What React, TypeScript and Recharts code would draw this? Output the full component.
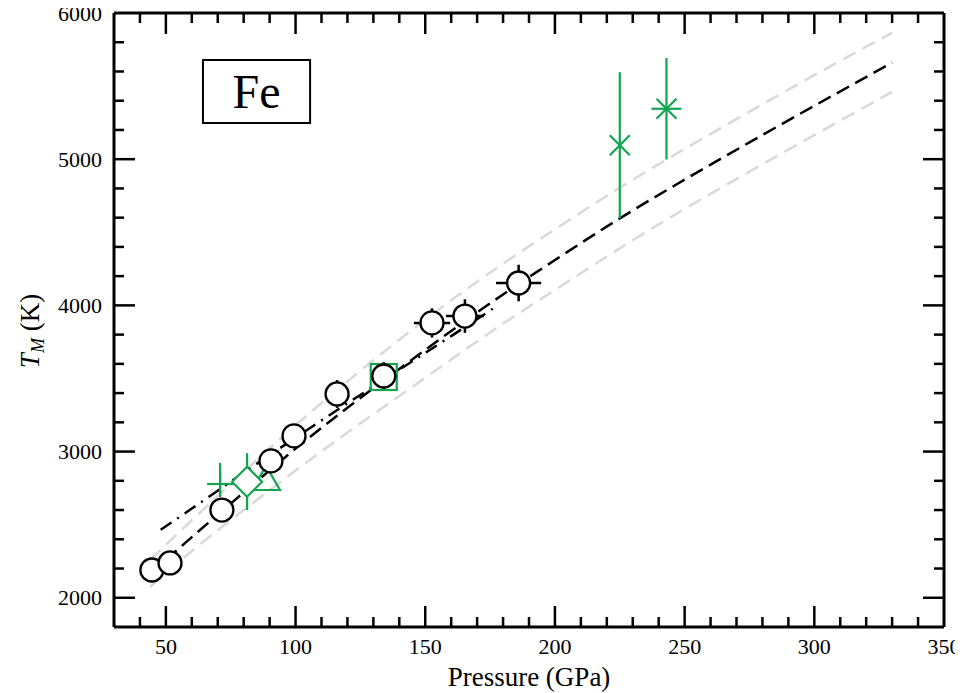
import React from "react";
import { ComposedChart, Line, Scatter, XAxis, YAxis, ErrorBar, ReferenceArea } from "recharts";

const FONT = '"Liberation Serif", "Times New Roman", serif';
const GREEN = "#12a54e";

// axis ticks
const xTicks = [40, 50, 60, 70, 80, 90, 100, 110, 120, 130, 140, 150, 160, 170, 180, 190, 200, 210, 220, 230, 240, 250, 260, 270, 280, 290, 300, 310, 320, 330, 340, 350];
const yTicks = [2000, 2200, 2400, 2600, 2800, 3000, 3200, 3400, 3600, 3800, 4000, 4200, 4400, 4600, 4800, 5000, 5200, 5400, 5600, 5800, 6000];

// melting curve fit and its bounds
const fitP = [44, 60, 80, 100, 120, 140, 160, 180, 200, 225, 250, 275, 300, 330];
const fitT = [2165, 2415, 2720, 3020, 3300, 3565, 3825, 4075, 4310, 4595, 4860, 5115, 5365, 5660];
const upperT = [2260, 2530, 2860, 3180, 3480, 3765, 4035, 4285, 4520, 4805, 5070, 5325, 5575, 5865];
const lowerT = [2075, 2320, 2600, 2870, 3130, 3380, 3630, 3875, 4105, 4390, 4660, 4915, 5165, 5460];

// dash-dot curve
const ddP = [48, 60, 80, 100, 120, 140, 160, 178];
const ddT = [2465, 2610, 2855, 3095, 3330, 3560, 3790, 4000];

// open circles
const circP = [44.6, 51.6, 71.6, 90.5, 99.4, 116, 134, 152.6, 165.3, 186];
const circT = [2190, 2238, 2600, 2936, 3107, 3394, 3517, 3880, 3927, 4153];
const circPErr = [2, 2, 2, 2, 2, 2, 5.3, 7, 7.3, 8.7];
const circTErr = [60, 60, 70, 70, 70, 95, 95, 100, 115, 125];

// green symbols
const plusPt = [{ p: 70.9, t: 2778, e: [80, 145] }];
const diamondPt = [{ p: 81.3, t: 2794, e: 195 }];
const trianglePt = [{ p: 88.6, t: 2792 }];
const squarePt = [{ p: 134, t: 3510 }];
const crossPt = [{ p: 225, t: 5095, e: 500 }];
const starPt = [{ p: 243, t: 5345, e: 347 }];

const fitData = fitP.map((p, i) => ({ p, t: fitT[i] }));
const upperData = fitP.map((p, i) => ({ p, t: upperT[i] }));
const lowerData = fitP.map((p, i) => ({ p, t: lowerT[i] }));
const ddData = ddP.map((p, i) => ({ p, t: ddT[i] }));
const circData = circP.map((p, i) => ({ p, t: circT[i], ex: circPErr[i], ey: circTErr[i] }));

const BottomTick = (props: any) => {
  const { x, y, payload } = props;
  const v = payload.value as number;
  const major = v % 50 === 0;
  return (
    <g>
      {v < 350 && <line x1={x} y1={y} x2={x} y2={y - (major ? 21 : 10)} stroke="#000" strokeWidth={2.5} />}
      {major && (
        <text x={x} y={y + 27} textAnchor="middle" fontSize={22} fontFamily={FONT} fill="#000">
          {v}
        </text>
      )}
    </g>
  );
};

const TopTick = (props: any) => {
  const { x, y, payload } = props;
  const v = payload.value as number;
  if (v >= 350) return <g />;
  return <line x1={x} y1={y} x2={x} y2={y + (v % 50 === 0 ? 21 : 10)} stroke="#000" strokeWidth={2.5} />;
};

const LeftTick = (props: any) => {
  const { x, y, payload } = props;
  const v = payload.value as number;
  const major = v % 1000 === 0;
  return (
    <g>
      {v < 6000 && <line x1={x} y1={y} x2={x + (major ? 21 : 10)} y2={y} stroke="#000" strokeWidth={2.5} />}
      {major && (
        <text x={x - 12} y={y} dy="0.35em" textAnchor="end" fontSize={22} fontFamily={FONT} fill="#000">
          {v}
        </text>
      )}
    </g>
  );
};

const RightTick = (props: any) => {
  const { x, y, payload } = props;
  const v = payload.value as number;
  if (v >= 6000) return <g />;
  return <line x1={x} y1={y} x2={x - (v % 1000 === 0 ? 21 : 10)} y2={y} stroke="#000" strokeWidth={2.5} />;
};

const CircleShape = (props: any) => (
  <circle cx={props.cx} cy={props.cy} r={11.5} fill="#fff" stroke="#000" strokeWidth={2.3} />
);

const PlusShape = (props: any) => {
  const { cx, cy } = props;
  return (
    <g stroke={GREEN} strokeWidth={2.2}>
      <line x1={cx - 13} y1={cy} x2={cx + 13} y2={cy} />
      <line x1={cx} y1={cy - 13} x2={cx} y2={cy + 13} />
    </g>
  );
};

const DiamondShape = (props: any) => {
  const { cx, cy } = props;
  const s = 15;
  return (
    <path
      d={`M${cx - s},${cy} L${cx},${cy - s} L${cx + s},${cy} L${cx},${cy + s} Z`}
      fill="#fff"
      stroke={GREEN}
      strokeWidth={2.2}
    />
  );
};

const TriangleShape = (props: any) => {
  const { cx, cy } = props;
  return (
    <path
      d={`M${cx},${cy - 16} L${cx + 14},${cy + 8} L${cx - 14},${cy + 8} Z`}
      fill="none"
      stroke={GREEN}
      strokeWidth={2.2}
    />
  );
};

const SquareShape = (props: any) => {
  const { cx, cy } = props;
  return <rect x={cx - 13} y={cy - 13} width={26} height={26} fill="none" stroke={GREEN} strokeWidth={2.2} />;
};

const CrossShape = (props: any) => {
  const { cx, cy } = props;
  const s = 10;
  return (
    <g stroke={GREEN} strokeWidth={2.2}>
      <line x1={cx - s} y1={cy - s} x2={cx + s} y2={cy + s} />
      <line x1={cx - s} y1={cy + s} x2={cx + s} y2={cy - s} />
    </g>
  );
};

const StarShape = (props: any) => {
  const { cx, cy } = props;
  const s = 10;
  return (
    <g stroke={GREEN} strokeWidth={2.2}>
      <line x1={cx - 15} y1={cy} x2={cx + 15} y2={cy} />
      <line x1={cx - s} y1={cy - s} x2={cx + s} y2={cy + s} />
      <line x1={cx - s} y1={cy + s} x2={cx + s} y2={cy - s} />
    </g>
  );
};

const W = 963;
const H = 693;

export default function App() {
  return (
    <div style={{ position: "relative", width: W, height: H, margin: "-8px 0 0 -8px" }}>
      <ComposedChart width={W} height={H} margin={{ top: 12, right: 18, bottom: 65, left: 113 }}>
        <XAxis
          xAxisId="b"
          type="number"
          dataKey="p"
          domain={[30, 350]}
          ticks={xTicks}
          interval={0}
          orientation="bottom"
          height={1}
          tickSize={0}
          tickMargin={0}
          tick={<BottomTick />}
          axisLine={{ stroke: "#000", strokeWidth: 3 }}
          allowDataOverflow
        />
        <XAxis
          xAxisId="t"
          type="number"
          dataKey="p"
          domain={[30, 350]}
          ticks={xTicks}
          interval={0}
          orientation="top"
          height={1}
          tickSize={0}
          tickMargin={0}
          tick={<TopTick />}
          axisLine={{ stroke: "#000", strokeWidth: 3 }}
          allowDataOverflow
        />
        <YAxis
          yAxisId="l"
          type="number"
          dataKey="t"
          domain={[1800, 6000]}
          ticks={yTicks}
          interval={0}
          orientation="left"
          width={1}
          tickSize={0}
          tickMargin={0}
          tick={<LeftTick />}
          axisLine={{ stroke: "#000", strokeWidth: 3 }}
          allowDataOverflow
        />
        <YAxis
          yAxisId="r"
          type="number"
          dataKey="t"
          domain={[1800, 6000]}
          ticks={yTicks}
          interval={0}
          orientation="right"
          width={1}
          tickSize={0}
          tickMargin={0}
          tick={<RightTick />}
          axisLine={{ stroke: "#000", strokeWidth: 3 }}
          allowDataOverflow
        />

        <ReferenceArea
          xAxisId="b"
          yAxisId="l"
          x1={64.3}
          x2={105.6}
          y1={5248}
          y2={5679}
          fill="#fff"
          fillOpacity={1}
          stroke="#000"
          strokeWidth={2}
          label={{ value: "Fe", position: "center", fontSize: 48, fill: "#000", fontFamily: FONT }}
        />

        <Line xAxisId="b" yAxisId="l" data={upperData} dataKey="t" type="monotone" stroke="#d9d9d9" strokeWidth={2.5} strokeDasharray="14 8" dot={false} activeDot={false} isAnimationActive={false} />
        <Line xAxisId="b" yAxisId="l" data={lowerData} dataKey="t" type="monotone" stroke="#d9d9d9" strokeWidth={2.5} strokeDasharray="14 8" dot={false} activeDot={false} isAnimationActive={false} />
        <Line xAxisId="b" yAxisId="l" data={ddData} dataKey="t" type="monotone" stroke="#000" strokeWidth={2.5} strokeDasharray="13 7 2 7" dot={false} activeDot={false} isAnimationActive={false} />
        <Line xAxisId="b" yAxisId="l" data={fitData} dataKey="t" type="monotone" stroke="#000" strokeWidth={2.5} strokeDasharray="14 7" dot={false} activeDot={false} isAnimationActive={false} />

        <Scatter xAxisId="b" yAxisId="l" data={trianglePt} dataKey="t" shape={<TriangleShape />} isAnimationActive={false} />
        <Scatter xAxisId="b" yAxisId="l" data={plusPt} dataKey="t" shape={<PlusShape />} isAnimationActive={false}>
          <ErrorBar dataKey="e" direction="y" width={0} stroke={GREEN} strokeWidth={2.2} isAnimationActive={false} />
        </Scatter>
        <Scatter xAxisId="b" yAxisId="l" data={diamondPt} dataKey="t" shape={<DiamondShape />} isAnimationActive={false}>
          <ErrorBar dataKey="e" direction="y" width={0} stroke={GREEN} strokeWidth={2.2} isAnimationActive={false} />
        </Scatter>
        <Scatter xAxisId="b" yAxisId="l" data={squarePt} dataKey="t" shape={<SquareShape />} isAnimationActive={false} />
        <Scatter xAxisId="b" yAxisId="l" data={crossPt} dataKey="t" shape={<CrossShape />} isAnimationActive={false}>
          <ErrorBar dataKey="e" direction="y" width={0} stroke={GREEN} strokeWidth={2.2} isAnimationActive={false} />
        </Scatter>
        <Scatter xAxisId="b" yAxisId="l" data={starPt} dataKey="t" shape={<StarShape />} isAnimationActive={false}>
          <ErrorBar dataKey="e" direction="y" width={0} stroke={GREEN} strokeWidth={2.2} isAnimationActive={false} />
        </Scatter>

        <Scatter xAxisId="b" yAxisId="l" data={circData} dataKey="t" shape={<CircleShape />} isAnimationActive={false}>
          <ErrorBar dataKey="ey" direction="y" width={0} stroke="#000" strokeWidth={2.5} isAnimationActive={false} />
          <ErrorBar dataKey="ex" direction="x" width={0} stroke="#000" strokeWidth={2.5} isAnimationActive={false} />
        </Scatter>
      </ComposedChart>

      <svg width={W} height={H} style={{ position: "absolute", left: 0, top: 0, pointerEvents: "none" }}>
        <text x={529} y={686} textAnchor="middle" fontSize={27} fontFamily={FONT} fill="#000">
          Pressure (GPa)
        </text>
        <text transform="translate(39,331) rotate(-90)" textAnchor="middle" fontSize={27} fontFamily={FONT} fill="#000">
          <tspan fontStyle="italic">T</tspan>
          <tspan fontStyle="italic" fontSize={18} dy={5}>M</tspan>
          <tspan dy={-5}> (K)</tspan>
        </text>
      </svg>
    </div>
  );
}
